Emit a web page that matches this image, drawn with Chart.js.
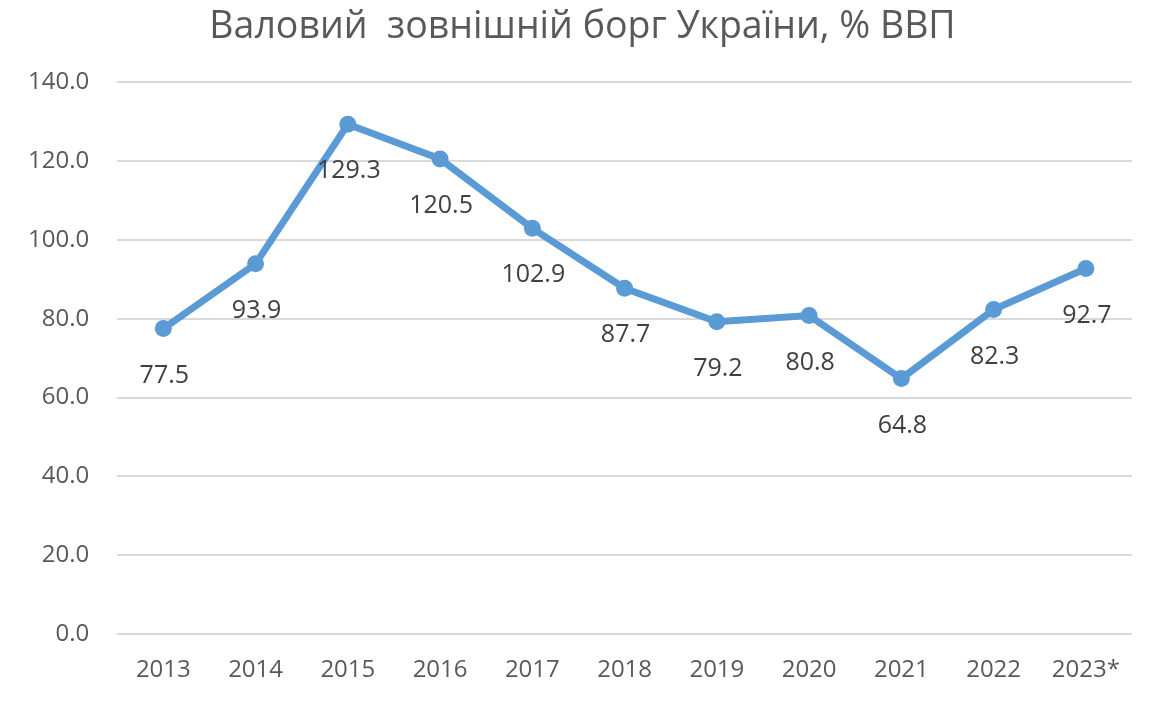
<!DOCTYPE html>
<html>
<head>
<meta charset="utf-8">
<script src="https://cdn.jsdelivr.net/npm/chart.js@4"></script>
<style>
  html, body { margin: 0; padding: 0; background: #fff; }
  #wrap { width: 1165px; height: 720px; }
</style>
</head>
<body>
<div id="wrap"><canvas id="debt-chart"></canvas></div>
<script>
// Data
const years = ['2013', '2014', '2015', '2016', '2017', '2018', '2019', '2020', '2021', '2022', '2023*'];
const debtShare = [77.5, 93.9, 129.3, 120.5, 102.9, 87.7, 79.2, 80.8, 64.8, 82.3, 92.7];
const yTicks = [0, 20, 40, 60, 80, 100, 120, 140];
const chartTitle = 'Валовий  зовнішній борг України, % ВВП';

const lineColor = '#5b9bd5';
const textColor = '#595959';

// Title centred on the whole canvas (the built-in one centres on the layout box)
const canvasTitle = {
    id: 'canvasTitle',
    afterDraw(chart) {
        const ctx = chart.ctx;
        ctx.save();
        ctx.font = '37.5px "Open Sans"';
        ctx.fillStyle = textColor;
        ctx.textAlign = 'center';
        ctx.textBaseline = 'alphabetic';
        ctx.fillText(chartTitle, chart.width / 2, 38);
        ctx.restore();
    }
};

// Value labels under each point
const pointLabels = {
    id: 'pointLabels',
    afterDatasetsDraw(chart) {
        const ctx = chart.ctx;
        const meta = chart.getDatasetMeta(0);
        ctx.save();
        ctx.font = '25px "Open Sans"';
        ctx.fillStyle = '#404040';
        ctx.textAlign = 'center';
        ctx.textBaseline = 'middle';
        meta.data.forEach((pt, i) => {
            ctx.fillText(debtShare[i].toFixed(1), pt.x + 1, pt.y + 47);
        });
        ctx.restore();
    }
};

const ctx = document.getElementById('debt-chart').getContext('2d');
new Chart(ctx, {
    type: 'line',
    data: {
        labels: years,
        datasets: [{
            label: 'Валовий зовнішній борг',
            data: debtShare,
            borderColor: lineColor,
            backgroundColor: lineColor,
            borderWidth: 7,
            pointRadius: 8.5,
            pointHoverRadius: 8.5,
            pointBackgroundColor: lineColor,
            pointBorderWidth: 0,
            tension: 0
        }]
    },
    options: {
        responsive: true,
        maintainAspectRatio: false,
        animation: false,
        layout: { padding: { left: 0, right: 33, top: 82, bottom: 21 } },
        scales: {
            x: {
                offset: true,
                grid: { display: false },
                border: { display: false },
                ticks: {
                    color: textColor,
                    font: { family: 'Open Sans', size: 24 },
                    padding: 14,
                    maxRotation: 0
                }
            },
            y: {
                min: 0,
                max: 140,
                afterBuildTicks: axis => { axis.ticks = yTicks.map(v => ({ value: v })); },
                grid: { color: '#d9d9d9', lineWidth: 2, drawTicks: false },
                border: { display: false },
                ticks: {
                    color: textColor,
                    font: { family: 'Open Sans', size: 24 },
                    padding: 28,
                    callback: v => v.toFixed(1)
                }
            }
        },
        plugins: {
            legend: { display: false },
            tooltip: { enabled: false },
            title: { display: false }
        }
    },
    plugins: [pointLabels, canvasTitle]
});
</script>
</body>
</html>
